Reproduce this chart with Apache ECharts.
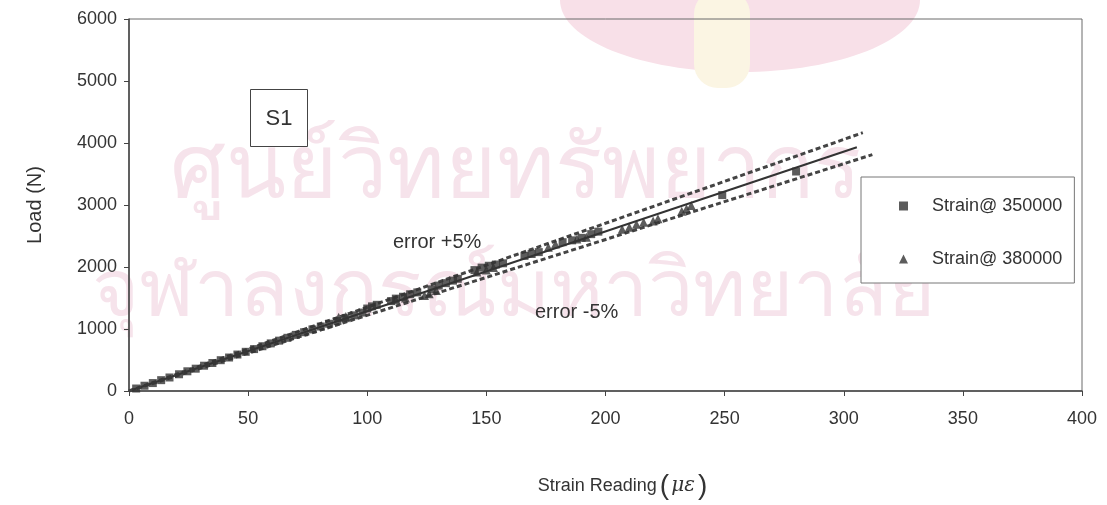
<!DOCTYPE html>
<html>
<head>
<meta charset="utf-8">
<script src="https://cdn.jsdelivr.net/npm/echarts@6/dist/echarts.min.js"></script>
<style>
  html, body { margin: 0; padding: 0; background: #fff; }
  #chart { width: 1107px; height: 505px; }
</style>
</head>
<body>
<div id="chart"></div>
<script>
// Axis ticks
const xTicks = [0, 50, 100, 150, 200, 250, 300, 350, 400];
const yTicks = [0, 1000, 2000, 3000, 4000, 5000, 6000];

// Gauge readings at 350000 (strain reading in micro-strain, load in N)
const strain350000 = [
  [3, 40], [6.5, 85], [10, 128], [13.5, 175], [17, 218], [21, 270], [24.5, 318],
  [28, 360], [31.5, 408], [35, 452], [38.5, 497], [42, 540], [45.5, 588], [49, 632],
  [52.5, 676], [56, 722], [59.5, 768], [63, 812], [66.5, 858], [70, 905], [73.5, 948],
  [77, 993], [80.5, 1040], [84, 1085], [87.5, 1128], [91, 1175], [94.5, 1220], [98, 1265],
  [100, 1330], [102, 1365], [104, 1390],
  [110, 1450], [112, 1490], [115, 1520], [118, 1560], [121, 1590],
  [127, 1640], [130, 1700], [133, 1740], [136, 1780], [138, 1810],
  [145, 1950], [148, 1990], [151, 2020], [154, 2040], [157, 2060],
  [166, 2180], [169, 2210], [172, 2240],
  [182, 2400], [186, 2430], [190, 2470], [194, 2530], [197, 2570],
  [249, 3160], [280, 3540]
];

// Gauge readings at 380000
const strain380000 = [
  [88, 1190], [91, 1200], [112, 1470], [116, 1500], [124, 1540], [126, 1570], [129, 1620],
  [146, 1920], [150, 1950], [153, 1990], [176, 2320], [179, 2370], [188, 2450], [192, 2480],
  [207, 2610], [210, 2640], [213, 2690], [216, 2720], [220, 2740], [222, 2780],
  [232, 2900], [234, 2940], [236, 2990]
];

// Fitted line and the +/-5% error bands
const fitLine = [[0, 0], [305.5, 3932]];
const upperBand = [[0, 0], [308, 4166]];
const lowerBand = [[0, 0], [312, 3812]];

const legendNames = ['Strain@ 350000', 'Strain@ 380000'];

const chart = echarts.init(document.getElementById('chart'));
const font = 'Arial, "Liberation Sans", sans-serif';
const ink = '#333333';
const thai = '"DejaVu Sans", "Noto Sans", sans-serif';

chart.setOption({
  backgroundColor: '#ffffff',
  animation: false,
  grid: {
    left: 129, right: 25, top: 19, bottom: 106,
    show: true, borderColor: '#6a6a6a', borderWidth: 1
  },
  xAxis: {
    type: 'value',
    min: xTicks[0], max: xTicks[xTicks.length - 1], interval: 50,
    splitLine: { show: false },
    axisLine: { show: true, lineStyle: { color: '#444', width: 1.5 } },
    axisTick: { show: true, inside: false, length: 5, lineStyle: { color: '#444' } },
    axisLabel: { color: '#333', fontSize: 18, fontFamily: font, margin: 19, formatter: v => String(v) },
    name: '{t|Strain Reading}{p|(}{g|\u03BC\u03B5}{p|)}',
    nameLocation: 'middle',
    nameGap: 81,
    nameTextStyle: {
      padding: [0, 0, 0, 36],
      rich: {
        t: { fontSize: 18, fontFamily: font, color: '#333' },
        p: { fontSize: 28, fontFamily: font, color: '#333', padding: [0, 2, 0, 3] },
        g: { fontSize: 20, fontFamily: '"DejaVu Serif", serif', fontStyle: 'italic', color: '#333' }
      }
    }
  },
  yAxis: {
    type: 'value',
    min: yTicks[0], max: yTicks[yTicks.length - 1], interval: 1000,
    splitLine: { show: false },
    axisLine: { show: true, lineStyle: { color: '#444', width: 1.5 } },
    axisTick: { show: true, inside: false, length: 5, lineStyle: { color: '#444' } },
    axisLabel: { color: '#333', fontSize: 18, fontFamily: font, margin: 12, formatter: v => String(v) },
    name: 'Load (N)',
    nameLocation: 'middle',
    nameGap: 84,
    nameRotate: 90,
    nameTextStyle: { fontSize: 20, fontFamily: font, color: '#333' }
  },
  legend: {
    orient: 'vertical',
    left: 861, top: 177,
    data: [
      { name: legendNames[0], icon: 'rect' },
      { name: legendNames[1], icon: 'triangle' }
    ],
    itemWidth: 9, itemHeight: 9, itemGap: 35,
    padding: [20, 12, 15, 38],
    borderColor: '#777', borderWidth: 1,
    backgroundColor: '#fff',
    textStyle: { color: '#333', fontSize: 18, fontFamily: font, padding: [0, 0, 0, 19] }
  },
  graphic: [
    // faint emblem and library watermark behind the plot
    {
      type: 'ellipse', z: -12, silent: true,
      shape: { cx: 740, cy: 0, rx: 180, ry: 72 },
      style: { fill: '#f8e0e8' }
    },
    {
      type: 'rect', z: -11, silent: true,
      shape: { x: 694, y: -10, width: 56, height: 98, r: 24 },
      style: { fill: '#fbf5e3' }
    },
    {
      type: 'text', left: 170, top: 130, z: -10, silent: true,
      style: { text: 'ศูนย์วิทยทรัพยากร', font: '88px ' + thai, fill: '#f6e3eb' }
    },
    {
      type: 'text', left: 92, top: 254, z: -10, silent: true,
      style: { text: 'จุฬาลงกรณ์มหาวิทยาลัย', font: '81px ' + thai, fill: '#f6e3eb' }
    },
    // S1 label box
    {
      type: 'group', left: 250, top: 89,
      children: [
        { type: 'rect', shape: { x: 0, y: 0, width: 57, height: 57 }, style: { fill: '#fff', stroke: '#444', lineWidth: 1 } },
        { type: 'text', style: { text: 'S1', x: 28.5, y: 29, textAlign: 'center', textVerticalAlign: 'middle', font: '22px ' + font, fill: '#333' } }
      ]
    },
    {
      type: 'text', left: 393, top: 232,
      style: { text: 'error +5%', font: '20px ' + font, fill: '#333' }
    },
    {
      type: 'text', left: 535, top: 302,
      style: { text: 'error -5%', font: '20px ' + font, fill: '#333' }
    }
  ],
  series: [
    {
      name: 'fit', type: 'line', data: fitLine, showSymbol: false, symbol: 'none',
      lineStyle: { color: '#333', width: 2 }, z: 3
    },
    {
      name: '+5%', type: 'line', data: upperBand, showSymbol: false, symbol: 'none',
      lineStyle: { color: '#444', width: 3, type: [5, 3] }, z: 3
    },
    {
      name: '-5%', type: 'line', data: lowerBand, showSymbol: false, symbol: 'none',
      lineStyle: { color: '#444', width: 3, type: [5, 3] }, z: 3
    },
    {
      name: legendNames[0], type: 'scatter', data: strain350000,
      symbol: 'rect', symbolSize: 8,
      itemStyle: { color: ink }, z: 4
    },
    {
      name: legendNames[1], type: 'scatter', data: strain380000,
      symbol: 'triangle', symbolSize: 9,
      itemStyle: { color: ink }, z: 4
    }
  ]
});
</script>
</body>
</html>
